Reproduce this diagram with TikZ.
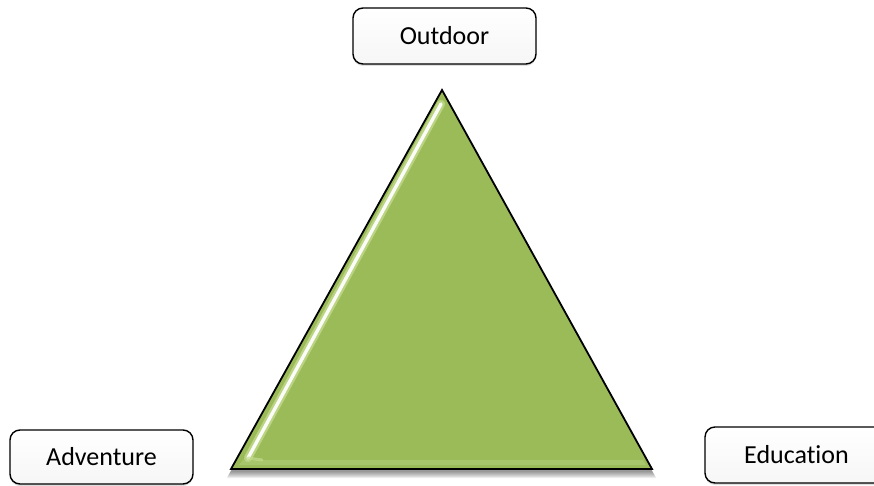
\documentclass[tikz,border=0pt]{standalone}
\usepackage{fontspec}
\setmainfont{Carlito}[Ligatures={NoCommon}]
\usepackage{xcolor}
\usetikzlibrary{
	shapes.geometric,
	positioning,
	shadows,
	calc
}
\definecolor{leafgreen}{HTML}{9BBB59}
\definecolor{leafgreenlight}{HTML}{C3DB8E}

\begin{document}
\begin{tikzpicture}[
    x=1pt, y=-1pt,
    word_box/.style={
        rectangle,
        rounded corners=10pt,
        draw=black,
        line width=1.4pt,
        top color=white,
        bottom color=gray!7,
        minimum width=183pt,
        minimum height=56pt,
        inner sep=2pt,
        font=\fontsize{26}{31}\selectfont,
        align=center,
        drop shadow={shadow xshift=0pt, shadow yshift=-2pt, opacity=0.25, fill=gray}
    },
    tri_shadow/.style={
        fill=black,
        opacity=0.07
    },
    tri_body/.style={
        fill=leafgreen,
        draw=black,
        line width=1.8pt,
        line join=miter
    },
    gloss/.style={
        line cap=round,
        draw=white
    }
]
    \useasboundingbox (0,0) rectangle (874,486);
    \clip (0,0) rectangle (874,486);

    % ====== corner words ======
    \node[word_box] (outdoor) at (444.5,36) {Outdoor};
    \node[word_box, minimum height=54pt] (adventure) at (101.5,457) {Adventure};
    \node[word_box] (education) at (796.5,455) {Education};

    % ====== triangle corners ======
    \coordinate (apex) at (442,90);
    \coordinate (base_left) at (231,469);
    \coordinate (base_right) at (652,469);

    % soft shadow under the triangle
    \foreach \s in {1,2,...,7} {
        \fill[tri_shadow] ($(apex)+(0,1+\s)$) -- ($(base_left)+(-\s*0.6,2+\s)$) -- ($(base_right)+(\s*0.6,2+\s)$) -- cycle;
    }

    % green body
    \draw[tri_body] (apex) -- (base_left) -- (base_right) -- cycle;

    % lighter band along the base
    \fill[leafgreenlight, opacity=0.35] ($(base_left)+(8,-4)$) -- ($(base_right)+(-6,-4)$) -- ($(base_right)+(-9,-9)$) -- ($(base_left)+(12,-9)$) -- cycle;

    % glossy highlight along the left side
    \coordinate (gloss_top) at (441,104);
    \coordinate (gloss_bottom) at (248,458);
    \draw[gloss, draw=leafgreenlight, line width=8pt, opacity=0.8] (gloss_top) -- (gloss_bottom);
    \draw[gloss, line width=3.4pt, opacity=0.95] (gloss_top) -- (gloss_bottom);
    \draw[gloss, draw=leafgreenlight, line width=3pt, opacity=0.7] (gloss_bottom) -- ($(gloss_bottom)+(14,2)$);

\end{tikzpicture}
\end{document}
